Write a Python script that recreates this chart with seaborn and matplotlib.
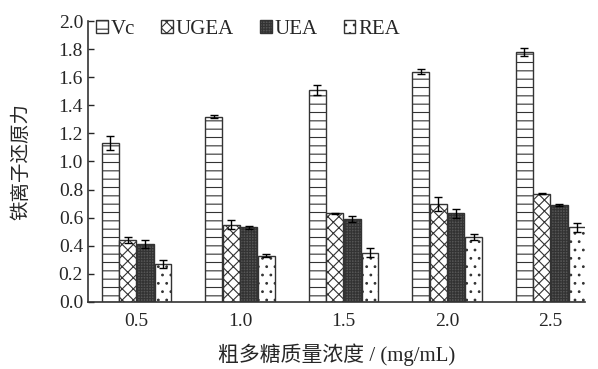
import numpy as np
import pandas as pd
import seaborn as sns
import matplotlib.pyplot as plt

concentrations = ['0.5', '1.0', '1.5', '2.0', '2.5']
samples = ['Vc', 'UGEA', 'UEA', 'REA']

vc = [1.13, 1.32, 1.51, 1.64, 1.78]
ugea = [0.44, 0.55, 0.63, 0.70, 0.77]
uea = [0.41, 0.53, 0.59, 0.63, 0.69]
rea = [0.27, 0.33, 0.35, 0.46, 0.53]

vc_err = [0.05, 0.01, 0.035, 0.02, 0.03]
ugea_err = [0.02, 0.03, 0.005, 0.05, 0.005]
uea_err = [0.03, 0.01, 0.02, 0.03, 0.01]
rea_err = [0.03, 0.01, 0.03, 0.02, 0.03]

values = {'Vc': vc, 'UGEA': ugea, 'UEA': uea, 'REA': rea}
errors = {'Vc': vc_err, 'UGEA': ugea_err, 'UEA': uea_err, 'REA': rea_err}

rows = []
for s in samples:
    for c, v in zip(concentrations, values[s]):
        rows.append({'conc': c, 'sample': s, 'value': v})
df = pd.DataFrame(rows)

sns.set_style('ticks')
plt.rcParams['font.family'] = ['Liberation Serif', 'Noto Sans CJK SC']
plt.rcParams['hatch.linewidth'] = 0.8

fig = plt.figure(figsize=(5.98, 3.69), dpi=100)
ax = fig.add_axes([0.147, 0.182, 0.831, 0.761])

sns.barplot(data=df, x='conc', y='value', hue='sample', hue_order=samples,
            order=concentrations, palette=['white'] * 4, width=0.68, gap=0.04,
            errorbar=None, edgecolor='#333333', linewidth=1.0, ax=ax)

hatches = {'Vc': '--', 'UGEA': 'xxx', 'UEA': '++++++', 'REA': '..'}
faces = {'Vc': 'white', 'UGEA': 'white', 'UEA': '#555555', 'REA': 'white'}

for cont, s in zip(ax.containers, samples):
    xs = []
    for bar in cont:
        bar.set_hatch(hatches[s])
        bar.set_facecolor(faces[s])
        xs.append(bar.get_x() + bar.get_width() / 2)
    ax.errorbar(xs, values[s], yerr=errors[s], fmt='none', ecolor='black',
                elinewidth=1, capsize=3, capthick=1, zorder=5)

handles = []
for s in samples:
    handles.append(plt.Rectangle((0, 0), 1, 1, facecolor=faces[s],
                                 edgecolor='#333333', hatch=hatches[s]))
ax.legend(handles, samples, loc='upper left', ncol=4, frameon=False,
          fontsize=15, handlelength=0.55, handleheight=0.6, handletextpad=0.15,
          columnspacing=1.25, borderaxespad=0.0, bbox_to_anchor=(0.0, 1.035))

ax.set_ylim(0, 2.0)
ax.set_yticks(np.arange(0, 2.01, 0.2))
ax.set_yticklabels([f'{t:.1f}' for t in np.arange(0, 2.01, 0.2)])
ax.set_xlim(-0.47, 4.33)
ax.tick_params(axis='y', direction='in', length=4, labelsize=14, width=1)
ax.tick_params(axis='x', length=0, labelsize=14, pad=8)

ax.set_xlabel('粗多糖质量浓度 / (mg/mL)', fontsize=15, labelpad=10)
ax.set_ylabel('铁离子还原力', fontsize=14, labelpad=20)

sns.despine(ax=ax)
for sp in ['left', 'bottom']:
    ax.spines[sp].set_color('#333333')
    ax.spines[sp].set_linewidth(1.2)

fig.savefig('out.png', dpi=100)
